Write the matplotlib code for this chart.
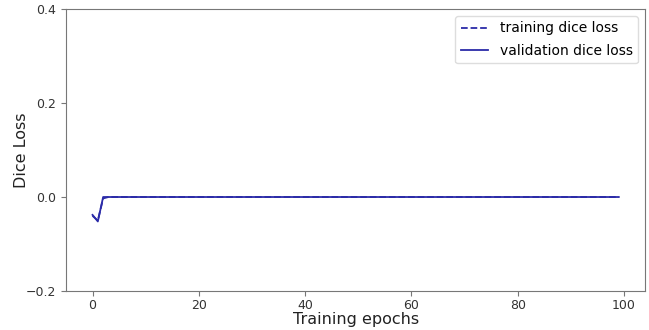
import matplotlib
matplotlib.use('Agg')
import matplotlib.pyplot as plt

epochs = list(range(100))
train_loss = [-0.04, -0.05, -0.003] + [0.0] * 97
val_loss = [-0.038, -0.052, 0.0] + [0.0] * 97

fig = plt.figure(figsize=(6.49, 3.30), dpi=100)
ax = fig.add_axes([0.102, 0.118, 0.892, 0.855])

ax.plot(epochs, train_loss, '--', color='#2b2ba8', linewidth=1.3, label='training dice loss')
ax.plot(epochs, val_loss, '-', color='#2b2ba8', linewidth=1.3, label='validation dice loss')

ax.set_ylim(-0.2, 0.4)
ax.set_yticks([-0.2, 0.0, 0.2, 0.4])
ax.set_xticks([0, 20, 40, 60, 80, 100])
ax.set_xlabel('Training epochs', fontsize=11.5, color='#222222', labelpad=0)
ax.set_ylabel('Dice Loss', fontsize=11.5, color='#222222', labelpad=-2)
ax.tick_params(labelsize=9, colors='#333333', length=3.5, color='#777777')
ax.tick_params(axis='x', pad=2)
for s in ax.spines.values():
    s.set_color('#777777')

ax.legend(loc='upper right', fontsize=10, framealpha=1, edgecolor='#dddddd',
          labelspacing=0.6)

fig.savefig('out.png', dpi=100)
